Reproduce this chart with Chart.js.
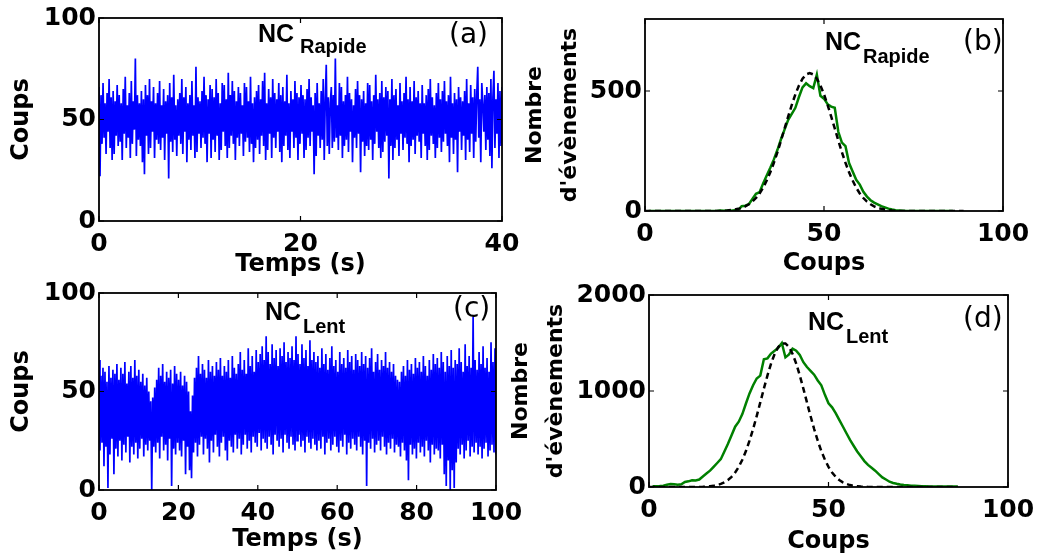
<!DOCTYPE html>
<html><head><meta charset="utf-8">
<script src="https://cdn.jsdelivr.net/npm/chart.js@4.4.1/dist/chart.umd.min.js"></script>
<style>
html,body{margin:0;padding:0;background:#fff;}
#wrap{position:relative;width:1054px;height:556px;overflow:hidden;background:#fff;}
#wrap canvas{position:absolute;left:0;top:0;}
</style></head><body>
<div id="wrap">
<canvas id="ca" width="1054" height="556"></canvas>
<canvas id="cb" width="1054" height="556"></canvas>
<canvas id="cc" width="1054" height="556"></canvas>
<canvas id="cd" width="1054" height="556"></canvas>
</div>
<script>
// ---------------- DATA ----------------
// (a) NC Rapide: counts vs time, 0..40 s
const durationRapide = 40;
const countsRapide = [
66,22,62,38,68,41,58,33,63,44,70,36,61,30,64,33,59,42,67,37,
62,39,58,30,65,43,71,36,57,41,63,31,69,38,59,45,80,32,62,40,
58,37,64,29,60,23,67,42,62,33,70,36,59,44,66,31,58,40,63,38,
69,35,57,41,65,30,59,43,62,21,68,39,61,34,72,40,57,32,60,42,
63,38,70,33,61,44,66,29,58,40,62,35,69,42,57,31,76,34,61,43,
59,36,64,41,71,38,62,29,60,43,67,31,65,40,61,34,70,42,63,30,
58,35,68,44,67,37,60,31,73,36,62,42,69,38,64,30,59,41,66,37,
63,43,57,32,68,39,66,41,59,34,71,38,58,29,61,36,64,40,67,33,
60,42,69,37,73,30,58,35,65,43,61,31,70,41,63,36,60,44,68,34,
62,29,66,37,59,42,72,35,58,31,64,44,60,36,69,41,63,30,61,38,
67,43,62,31,60,35,65,41,70,37,61,44,57,23,63,32,68,42,58,36,
64,40,70,30,59,77,37,61,33,58,66,36,62,39,80,41,57,35,68,42,
66,31,59,37,62,40,71,34,63,44,60,29,57,41,65,36,69,43,62,24,
60,39,64,32,58,37,68,35,67,40,59,30,62,38,72,44,60,36,63,31,
69,34,61,39,66,42,64,21,60,37,70,30,62,36,65,40,57,32,68,43,
59,35,63,41,71,38,60,29,66,37,59,40,69,33,61,42,64,39,58,31,
67,43,58,37,62,30,65,35,70,42,61,38,57,31,63,36,68,41,60,34,
64,39,69,43,59,37,62,29,71,41,58,33,63,40,60,24,66,44,61,35,
59,42,64,30,70,40,58,34,67,43,61,31,65,39,62,76,41,60,29,68,
58,44,62,35,66,40,63,32,70,26,61,74,36,60,43,68,31,64,37,66
];
// (c) NC Lent: counts vs time, 0..100 s
const durationLent = 100;
const countsLent = [
66,20,58,24,62,12,60,22,55,1,63,18,57,26,61,8,59,21,64,17,
56,25,62,15,59,23,65,19,54,27,60,14,63,22,57,18,66,24,58,16,
61,21,55,26,59,17,53,23,57,20,50,25,45,0,47,22,52,19,56,24,
62,16,58,27,64,20,55,23,60,15,57,26,61,2,54,21,63,18,59,24,
56,20,60,17,53,25,58,8,55,22,50,10,40,6,48,19,57,24,62,17,
68,23,59,27,64,18,61,26,57,21,66,14,60,25,63,19,58,28,65,22,
61,17,67,24,58,27,63,20,60,15,66,25,57,22,68,19,62,28,59,21,
64,26,70,18,61,23,66,28,59,21,72,25,63,19,68,27,60,24,71,22,
65,29,69,20,73,26,66,24,78,21,70,27,64,23,74,18,67,28,71,25,
63,22,72,26,68,19,75,28,65,24,70,21,67,27,73,23,66,20,78,25,
69,28,64,22,74,25,67,19,71,27,63,24,76,21,66,26,70,23,65,20,
68,25,62,21,72,27,64,18,69,24,61,26,67,20,73,23,63,27,66,22,
60,19,70,25,64,22,67,28,62,18,71,24,65,21,68,26,61,23,69,20,
66,27,63,22,70,18,64,25,68,2,62,24,67,21,72,26,60,19,65,23,
69,25,61,20,66,27,63,22,70,18,62,24,65,21,60,26,64,19,58,23,
56,22,55,17,60,24,63,20,58,15,66,5,61,23,64,18,59,21,67,16,
62,24,65,19,60,22,68,17,63,25,58,20,66,14,61,23,69,18,64,21,
67,20,62,16,70,23,65,8,60,2,68,15,63,0,71,10,62,1,66,14,
64,21,72,18,65,23,60,16,74,20,63,25,68,17,62,22,88,19,66,24,
61,18,70,22,64,16,73,21,62,24,67,17,60,20,75,23,65,19,72,18
];
// (b) histogram NC Rapide: observed (bins 1..88) and fit (bins 0..89)
const binStartRapideObs = 1;
const histRapideObs = [
0,0,0,0,0,0,0,0,0,0,0,0,0,0,0,0,0,0,0,0,
2,1,2,1,3,3,20,22,28,50,
72,78,115,148,180,215,255,300,340,380,
405,430,475,515,532,520,512,568,480,468,
445,435,430,330,285,270,200,165,130,110,
80,60,45,35,28,20,15,10,6,3,
2,1,0,0,0,0,0,0,0,0,0,0,0,0,0,0
];
const binStartRapideFit = 0;
const histRapideFit = [
0,0,0,0,0,0,0,0,0,0,0,0,0,0,0,0,0,0,0,0,0,0,
1,2,4,6,9,13,19,28,39,54,
73,97,127,161,201,245,294,344,394,442,
486,523,551,569,575,569,551,523,486,442,
394,344,294,245,201,161,127,97,73,54,
39,28,19,13,9,6,4,2,1,
0,0,0,0,0,0,0,0,0,0,0,0,0,0,0,0,0,0,0
];
// (d) histogram NC Lent: observed (bins 1..86) and fit (bins 0..86)
const binStartLentObs = 1;
const histLentObs = [
7,7,10,14,24,31,28,24,28,52,
59,70,68,78,110,140,170,210,250,290,
370,450,540,628,680,760,870,975,1060,1130,
1160,1330,1340,1390,1420,1450,1500,1350,1380,1440,
1420,1375,1300,1250,1210,1170,1110,1060,960,872,
830,770,700,630,560,490,430,370,320,270,
230,200,170,135,100,78,55,42,33,27,
22,18,14,12,10,8,7,6,6,5,
5,5,4,4,4,4
];
const binStartLentFit = 0;
const histLentFit = [
0,0,0,0,0,0,0,0,0,0,0,0,0,0,
1,2,4,8,12,20,32,49,73,106,
151,210,284,374,482,604,739,881,1025,1162,
1286,1386,1458,1495,1495,1458,1386,1286,1162,1025,
881,739,604,482,374,284,210,151,106,73,
49,32,20,12,8,4,2,1,
0,0,0,0,0,0,0,0,0,0,0,0,0,0,0,0,0,0,0,0,0,0,0,0,0
];
// tick labels
const ticksTempsRapide = [0, 20, 40];
const ticksTempsLent = [0, 20, 40, 60, 80, 100];
const ticksCoupsSerie = [0, 50, 100];
const ticksCoupsHist = [0, 50, 100];
const ticksNombreRapide = [0, 500];
const ticksNombreLent = [0, 1000, 2000];

// ---------------- RENDER ----------------
const W = 1054, H = 556;
const tickFont = {family: "'DejaVu Sans', sans-serif", size: 25, weight: 'bold'};
const titleFont = {family: "'DejaVu Sans', sans-serif", size: 24, weight: 'bold'};
const title2Font = {family: "'DejaVu Sans', sans-serif", size: 22, weight: 'bold', lineHeight: '35px'};

const series = (vals, dur) => vals.map((v, i) => ({x: i * dur / (vals.length - 1), y: v}));
const hist = (vals, start) => vals.map((v, i) => ({x: start + i, y: v}));

const frame = {
  id: 'frame',
  afterDatasetsDraw(chart, args, o) {
    const {ctx, chartArea: a} = chart;
    const xs = chart.scales.x, ys = chart.scales.y;
    ctx.save();
    ctx.strokeStyle = '#000';
    ctx.lineWidth = 1.8;
    ctx.strokeRect(a.left, a.top, a.right - a.left, a.bottom - a.top);
    const L = 5;
    ctx.beginPath();
    xs.ticks.forEach(t => { const p = xs.getPixelForValue(t.value);
      ctx.moveTo(p, a.bottom); ctx.lineTo(p, a.bottom - L);
      ctx.moveTo(p, a.top); ctx.lineTo(p, a.top + L); });
    ys.ticks.forEach(t => { const p = ys.getPixelForValue(t.value);
      ctx.moveTo(a.left, p); ctx.lineTo(a.left + L, p);
      ctx.moveTo(a.right, p); ctx.lineTo(a.right - L, p); });
    ctx.lineWidth = 1.2;
    ctx.stroke();
    ctx.fillStyle = '#000';
    ctx.textBaseline = 'alphabetic';
    ctx.textAlign = 'left';
    ctx.font = "bold 25px 'Liberation Sans', Arial, sans-serif";
    ctx.fillText(o.main, o.mx, o.my);
    ctx.font = "bold 20px 'Liberation Sans', Arial, sans-serif";
    ctx.fillText(o.sub, o.sx, o.sy);
    ctx.font = "28px 'DejaVu Sans', sans-serif";
    ctx.fillText(o.tag, o.tx, o.ty);
    ctx.restore();
  }
};

function makeChart(id, c) {
  return new Chart(document.getElementById(id), {
    type: 'line',
    data: {datasets: c.datasets},
    options: {
      responsive: false, animation: false, events: [],
      layout: {padding: {left: c.L0, top: c.top, right: W - c.right, bottom: H - c.bottom - c.xH}},
      elements: {point: {radius: 0}, line: {tension: 0}},
      plugins: {legend: {display: false}, tooltip: {enabled: false}, frame: c.labels},
      scales: {
        x: {type: 'linear', min: c.xMin, max: c.xMax,
          afterBuildTicks: s => { s.ticks = c.xTicks.map(v => ({value: v})); },
          afterFit: s => { s.height = c.xH; s.paddingLeft = 0; s.paddingRight = 0; },
          grid: {display: false, drawTicks: false}, border: {display: false},
          ticks: {font: tickFont, color: '#000', padding: 8, maxRotation: 0, autoSkip: false, callback: v => String(v)},
          title: {display: true, text: c.xTitle, font: titleFont, color: '#000', padding: {top: 0, bottom: 0}}},
        y: {type: 'linear', min: c.yMin, max: c.yMax,
          afterBuildTicks: s => { s.ticks = c.yTicks.map(v => ({value: v})); },
          afterFit: s => { s.width = c.left - c.L0; s.paddingTop = 0; s.paddingBottom = 0; },
          grid: {display: false, drawTicks: false}, border: {display: false},
          ticks: {font: tickFont, color: '#000', padding: 3, autoSkip: false, callback: v => String(v)},
          title: {display: true, text: c.yTitle, font: c.yTitleFont, color: '#000', padding: {top: c.yTitlePad, bottom: 0}}}
      }
    },
    plugins: [frame]
  });
}

const blue = '#0000ff', green = '#008000';

makeChart('ca', {
  L0: 0, left: 99, top: 18, right: 502, bottom: 221, xH: 58,
  xMin: 0, xMax: 40, xTicks: ticksTempsRapide, yMin: 0, yMax: 100, yTicks: ticksCoupsSerie,
  xTitle: 'Temps (s)', yTitle: 'Coups', yTitleFont: titleFont, yTitlePad: 7,
  labels: {main: 'NC', mx: 258, my: 42, sub: 'Rapide', sx: 300, sy: 53, tag: '(a)', tx: 449, ty: 43},
  datasets: [{data: series(countsRapide, durationRapide), borderColor: blue, borderWidth: 1.7}]
});
makeChart('cb', {
  L0: 518, left: 645, top: 19, right: 1003, bottom: 211, xH: 67,
  xMin: 0, xMax: 100, xTicks: ticksCoupsHist, yMin: 0, yMax: 800, yTicks: ticksNombreRapide,
  xTitle: 'Coups', yTitle: ['Nombre', "d'évènements"], yTitleFont: title2Font, yTitlePad: 0,
  labels: {main: 'NC', mx: 825, my: 50, sub: 'Rapide', sx: 863, sy: 63, tag: '(b)', tx: 963, ty: 50},
  datasets: [
    {data: hist(histRapideFit, binStartRapideFit), borderColor: '#000', borderWidth: 2.5, borderDash: [6, 4]},
    {data: hist(histRapideObs, binStartRapideObs), borderColor: green, borderWidth: 2.5}
  ]
});
makeChart('cc', {
  L0: 0, left: 99, top: 293, right: 496, bottom: 490, xH: 64,
  xMin: 0, xMax: 100, xTicks: ticksTempsLent, yMin: 0, yMax: 100, yTicks: ticksCoupsSerie,
  xTitle: 'Temps (s)', yTitle: 'Coups', yTitleFont: titleFont, yTitlePad: 7,
  labels: {main: 'NC', mx: 265, my: 320, sub: 'Lent', sx: 303, sy: 333, tag: '(c)', tx: 453, ty: 317},
  datasets: [{data: series(countsLent, durationLent), borderColor: blue, borderWidth: 1.7}]
});
makeChart('cd', {
  L0: 504, left: 649, top: 295, right: 1008, bottom: 487, xH: 69,
  xMin: 0, xMax: 100, xTicks: ticksCoupsHist, yMin: 0, yMax: 2000, yTicks: ticksNombreLent,
  xTitle: 'Coups', yTitle: ['Nombre', "d'évènements"], yTitleFont: title2Font, yTitlePad: 0,
  labels: {main: 'NC', mx: 808, my: 330, sub: 'Lent', sx: 846, sy: 343, tag: '(d)', tx: 963, ty: 327},
  datasets: [
    {data: hist(histLentFit, binStartLentFit), borderColor: '#000', borderWidth: 2.5, borderDash: [6, 4]},
    {data: hist(histLentObs, binStartLentObs), borderColor: green, borderWidth: 2.5}
  ]
});
</script>
</body></html>
